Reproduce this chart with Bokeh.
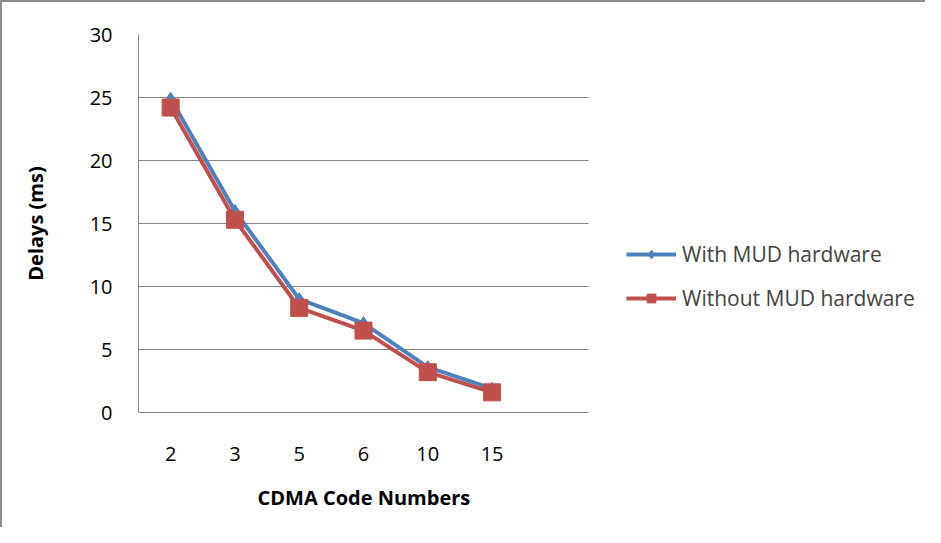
from bokeh.plotting import figure
from bokeh.models import Range1d, FixedTicker, Legend, LegendItem, BoxAnnotation, Title
from bokeh.embed import file_html
from bokeh.resources import INLINE

categories = ["2", "3", "5", "6", "10", "15"]
with_mud = [24.9, 16.0, 9.0, 7.1, 3.6, 1.9]
without_mud = [24.2, 15.3, 8.3, 6.5, 3.2, 1.6]
y_ticks = [0, 5, 10, 15, 20, 25, 30]
n_slots = 7  # category slots on the axis (last one empty)

FONT = "Open Sans"
GRID = "#868686"
BLUE = "#4F81BD"
RED = "#C0504D"

xs = [i + 0.5 for i in range(len(categories))]

# frame spans the plot area plus the legend area; one slot is ~64.3 px wide
FRAME_W = 788
SLOT_PX = 450 / n_slots
x_end = FRAME_W / SLOT_PX

p = figure(width=925, height=527, output_backend="svg", toolbar_location=None,
           x_range=Range1d(0, x_end), y_range=Range1d(0, 30),
           min_border_left=136, min_border_top=32,
           min_border_right=925 - 136 - FRAME_W, min_border_bottom=117)
p.styles = {"border-left": "2px solid #8c8c8c", "border-top": "2px solid #8c8c8c"}
p.outline_line_color = None
p.background_fill_color = "white"

p.xaxis.ticker = FixedTicker(ticks=xs)
p.xaxis.major_label_overrides = {x: c for x, c in zip(xs, categories)}
p.xaxis.bounds = (0, n_slots)
p.yaxis.ticker = FixedTicker(ticks=y_ticks)

for ax in (p.xaxis[0], p.yaxis[0]):
    ax.axis_line_color = GRID
    ax.axis_line_width = 1
    ax.major_tick_line_color = None
    ax.minor_tick_line_color = None
    ax.major_label_text_font = FONT
    ax.major_label_text_font_size = "20px"
    ax.major_label_text_color = "black"
    ax.axis_label_text_font = FONT
    ax.axis_label_text_font_size = "20px"
    ax.axis_label_text_font_style = "bold"
    ax.axis_label_text_color = "black"

p.yaxis.axis_label = "Delays (ms)"
p.xaxis.major_label_standoff = 28
p.yaxis.major_label_standoff = 20
p.yaxis.axis_label_standoff = 38

# x-axis title, centred under the plot area (not the legend zone)
x_title = Title(text="CDMA Code Numbers", align="left", offset=119,
                text_font=FONT, text_font_size="20px", text_font_style="bold",
                text_color="black", standoff=37)
p.add_layout(x_title, "below")

p.xgrid.grid_line_color = None
p.ygrid.grid_line_color = GRID
p.ygrid.grid_line_width = 1

# blank out gridlines beyond the plot area (legend zone)
p.add_layout(BoxAnnotation(left=n_slots, fill_color="white", fill_alpha=1,
                           line_color=None))

l1 = p.line(xs, with_mud, line_color=BLUE, line_width=4)
m1 = p.scatter(xs, with_mud, marker="diamond", size=13, fill_color=BLUE, line_color=BLUE)
l2 = p.line(xs, without_mud, line_color=RED, line_width=4)
m2 = p.scatter(xs, without_mud, marker="square", size=17, fill_color=RED, line_color=RED)

legend = Legend(items=[LegendItem(label="With MUD hardware", renderers=[l1, m1]),
                       LegendItem(label="Without MUD hardware", renderers=[l2, m2])],
                location=(488, 100), orientation="vertical",
                label_text_font=FONT, label_text_font_size="21px",
                glyph_width=50, glyph_height=22, label_height=22, spacing=16,
                padding=0, margin=0, border_line_color=None,
                background_fill_alpha=0, label_standoff=6)
p.add_layout(legend, "center")

open("out.html", "w").write(file_html(p, INLINE))
